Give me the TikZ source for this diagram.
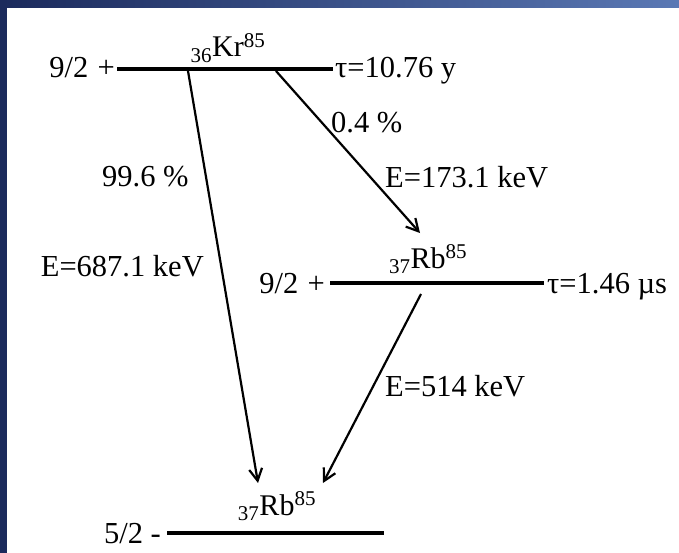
\documentclass[tikz,border=0pt]{standalone}
\usepackage{fontspec}
\setmainfont{Liberation Serif}
\usetikzlibrary{arrows.meta}
\definecolor{navy}{HTML}{1B2A5C}
\definecolor{navylight}{HTML}{5A78B4}
\begin{document}
\begin{tikzpicture}[x=1pt,y=-1pt,
  every node/.style={inner sep=0pt,font=\fontsize{30.5}{33}\selectfont},
  level/.style={line width=3.2pt},
  trans/.style={line width=2.2pt,-{Straight Barb[length=12pt,width=13pt,line width=2.2pt]}},
  lbl/.style={anchor=base west},
  nuc/.style={anchor=base,font=\fontsize{30}{32}\selectfont}]
\useasboundingbox (0,0) rectangle (679,553);
\fill[white] (0,0) rectangle (679,553);
\shade[left color=navy,right color=navylight] (0,0) rectangle (679,8);
\fill[navy] (0,0) rectangle (7,553);
% levels
\coordinate (k1) at (117,69); \coordinate (k2) at (333,69);
\coordinate (m1) at (330,283); \coordinate (m2) at (544,283);
\coordinate (g1) at (167,533); \coordinate (g2) at (384,533);
\draw[level] (k1) -- (k2);
\draw[level] (m1) -- (m2);
\draw[level] (g1) -- (g2);
% level labels
\node[anchor=base east] (kspin) at (115,78) {9/2\hspace{0.3em}+};
\node[anchor=base east] (mspin) at (325,293) {9/2\hspace{0.3em}+};
\node[anchor=base east] (gspin) at (161,543) {5/2 -};
\node[nuc] (kr) at (228,57) {\textsubscript{36}Kr\textsuperscript{85}};
\node[nuc] (rbm) at (428,268) {\textsubscript{37}Rb\textsuperscript{85}};
\node[nuc] (rbg) at (277,515) {\textsubscript{37}Rb\textsuperscript{85}};
\node[lbl] (tk) at (335,78) {τ=10.76 y};
\node[lbl] (tm) at (547,293) {τ=1.46 µs};
% transitions
\coordinate (a1s) at (188,71); \coordinate (a1e) at (258,483);
\coordinate (a2s) at (276,71); \coordinate (a2e) at (420,233);
\coordinate (a3s) at (421,294); \coordinate (a3e) at (323,483);
\draw[trans] (a1s) -- (a1e);
\draw[trans] (a2s) -- (a2e);
\draw[trans] (a3s) -- (a3e);
% transition labels
\node[lbl] (p1) at (102,187) {99.6 \%};
\node[anchor=base east] (e1) at (204,276) {E=687.1 keV};
\node[lbl] (p2) at (331,133) {0.4 \%};
\node[lbl] (e2) at (385,188) {E=173.1 keV};
\node[lbl] (e3) at (385,396) {E=514 keV};
\end{tikzpicture}
\end{document}
